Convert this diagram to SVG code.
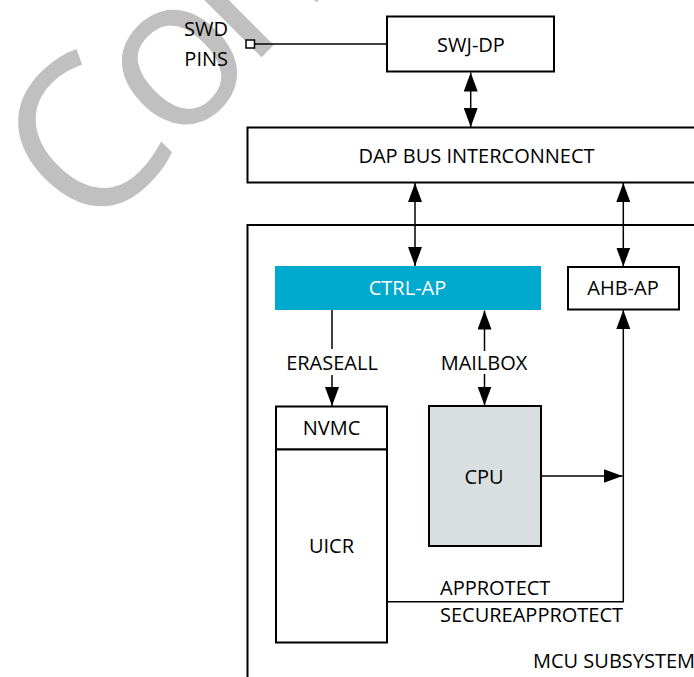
<svg xmlns="http://www.w3.org/2000/svg" width="694" height="677" viewBox="0 0 694 677">
  <style>
    .box { fill: #ffffff; stroke: #000000; stroke-width: 2; }
    .ap { fill: #00a9ce; stroke: none; }
    .core { fill: #d9dfe1; stroke: #000000; stroke-width: 2; }
    .lbl { font-family: "Open Sans", "DejaVu Sans", sans-serif; font-size: 20px; fill: #000000; }
    .mid { text-anchor: middle; }
    .inv { fill: #ffffff; }
    .wire { fill: none; stroke: #000000; stroke-width: 1.5; }
    .arrow { marker-end: url(#head); }
    .both { marker-start: url(#head); marker-end: url(#head); }
    .back { marker-start: url(#head); }
    .mark { font-family: "Open Sans", "DejaVu Sans", sans-serif; font-size: 212px; fill: #c0c0c0; }
  </style>
  <defs>
    <marker id="head" viewBox="0 0 19 14" markerUnits="userSpaceOnUse" markerWidth="19" markerHeight="14" refX="19" refY="7" orient="auto-start-reverse">
      <path d="M0,0 L19,7 L0,14 z" fill="#000000"/>
    </marker>
  </defs>

  <rect width="694" height="677" fill="#ffffff"/>

  <!-- background stamp -->
  <text class="mark" transform="translate(89,241) rotate(-45)" x="0 123 234" y="0 -2 -8">Con</text>

  <!-- frames -->
  <g id="mcu-subsystem">
    <rect class="box" x="247.5" y="225" width="470" height="470"/>
    <text class="lbl" x="533" y="668">MCU SUBSYSTEM</text>
  </g>

  <g id="swd-pins">
    <text class="lbl" x="228" y="36" text-anchor="end">SWD</text>
    <text class="lbl" x="228" y="65.5" text-anchor="end">PINS</text>
  </g>

  <g id="swj-dp">
    <rect class="box" x="387" y="16.5" width="167" height="55"/>
    <text class="lbl mid" x="471" y="52">SWJ-DP</text>
  </g>

  <g id="dap-bus">
    <rect class="box" x="247.5" y="127.5" width="470" height="55"/>
    <text class="lbl mid" x="476.5" y="163">DAP BUS INTERCONNECT</text>
  </g>

  <g id="ctrl-ap">
    <rect class="ap" x="275" y="266" width="266" height="44"/>
    <text class="lbl mid inv" x="407.5" y="295">CTRL-AP</text>
  </g>

  <g id="ahb-ap">
    <rect class="box" x="568" y="267" width="111" height="42.5"/>
    <text class="lbl mid" x="623" y="295">AHB-AP</text>
  </g>

  <g id="nvmc">
    <rect class="box" x="276" y="406.5" width="111" height="43"/>
    <text class="lbl mid" x="331.5" y="435">NVMC</text>
  </g>

  <g id="uicr">
    <rect class="box" x="276" y="449.5" width="111" height="193"/>
    <text class="lbl mid" x="331.5" y="552.5">UICR</text>
  </g>

  <g id="cpu">
    <rect class="core" x="429" y="406" width="112" height="140"/>
    <text class="lbl mid" x="484" y="483.5">CPU</text>
  </g>

  <!-- connectors -->
  <g id="connectors">
    <rect x="246" y="40" width="8.5" height="8" fill="#ffffff" stroke="#000000" stroke-width="1.5"/>
    <path class="wire" d="M254.5,44 H387"/>
    <path class="wire both" d="M470.7,72.5 V127"/>
    <path class="wire both" d="M415,183 V266"/>
    <path class="wire both" d="M623.3,183 V266.5"/>
    <path class="wire" d="M332,310 V349"/>
    <path class="wire arrow" d="M332,375 V406"/>
    <path class="wire back" d="M484.5,310.5 V351"/>
    <path class="wire arrow" d="M484.5,374 V405.5"/>
    <path class="wire arrow" d="M541,476 H622.5"/>
    <path class="wire arrow" d="M387,601.7 H623.3 V310"/>
    <text class="lbl mid" x="332" y="370">ERASEALL</text>
    <text class="lbl mid" x="484" y="370">MAILBOX</text>
    <text class="lbl" x="440" y="595">APPROTECT</text>
    <text class="lbl" x="440" y="621.5">SECUREAPPROTECT</text>
  </g>
</svg>
